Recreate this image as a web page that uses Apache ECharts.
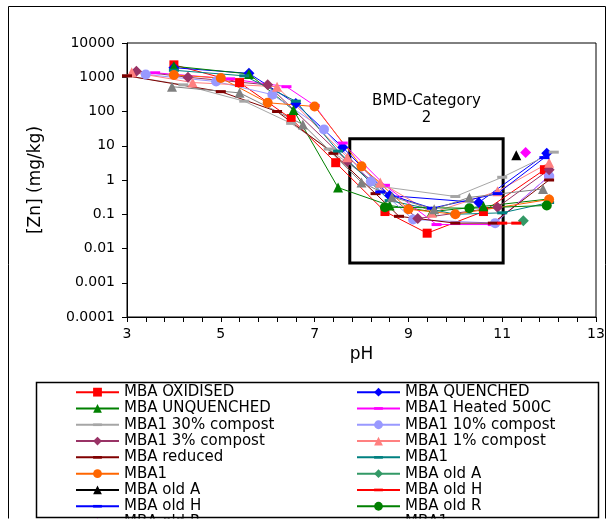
<!DOCTYPE html>
<html>
<head>
<meta charset="utf-8">
<script src="https://cdn.jsdelivr.net/npm/echarts@6/dist/echarts.min.js"></script>
<style>
  html, body { margin: 0; padding: 0; background: #fff; }
  #chart { width: 610px; height: 521px; }
</style>
</head>
<body>
<div id="chart"></div>
<script>
// Zn leaching versus pH for several MBA materials
const seriesNames = [
  'MBA OXIDISED', 'MBA QUENCHED', 'MBA UNQUENCHED', 'MBA1 Heated 500C',
  'MBA1 30% compost', 'MBA1 10% compost', 'MBA1 3% compost', 'MBA1 1% compost',
  'MBA reduced', 'MBA1', 'MBA1', 'MBA old A', 'MBA old A', 'MBA old H',
  'MBA old H', 'MBA old R', 'MBA old R', 'MBA1'
];

const phOxidised = [4.0, 5.4, 6.5, 7.45, 8.5, 9.4, 10.6, 11.9];
const znOxidised = [2300, 700, 62, 3.2, 0.12, 0.028, 0.12, 2.0];

const phQuenched = [4.0, 5.6, 6.6, 7.6, 8.6, 10.5, 11.95];
const znQuenched = [1900, 1300, 170, 9, 0.35, 0.22, 6.0];

const phUnquenched = [4.0, 5.6, 6.55, 7.5, 8.6, 9.5, 10.6, 12.0];
const znUnquenched = [2100, 1250, 110, 0.6, 0.18, 0.12, 0.17, 0.28];

const phHeated = [3.6, 5.2, 6.4, 7.0, 7.6, 8.5, 9.6, 10.8, 12.0];
const znHeated = [1350, 900, 530, 150, 12, 0.7, 0.05, 0.05, 1.3];

const phCompost30 = [3.0, 4.2, 5.5, 6.5, 7.3, 8.4, 10.0, 11.0, 12.1];
const znCompost30 = [1100, 600, 200, 45, 8, 0.65, 0.33, 1.2, 6.5];

const phCompost10 = [3.4, 4.9, 6.1, 7.2, 8.2, 9.1, 10.85, 12.0];
const znCompost10 = [1200, 750, 310, 30, 0.9, 0.07, 0.055, 1.3];

const phCompost3 = [3.2, 4.3, 6.0, 7.7, 9.2, 10.9, 12.0];
const znCompost3 = [1500, 1000, 600, 3.5, 0.075, 0.16, 2.0];

const phCompost1 = [3.1, 4.4, 6.2, 7.7, 8.4, 9.5, 10.9, 12.0];
const znCompost1 = [1400, 700, 530, 4.6, 0.85, 0.11, 0.47, 3.2];

const phReduced = [3.0, 5.0, 6.2, 7.4, 8.3, 8.8, 10.0, 10.8, 12.0];
const znReduced = [1100, 380, 100, 6, 0.4, 0.087, 0.055, 0.055, 1.0];

const phMba1Teal = [4.0, 5.5, 6.6, 7.5, 8.6, 10.0, 11.0, 12.0];
const znMba1Teal = [1600, 1100, 200, 7, 0.25, 0.1, 0.11, 0.22];

const phMba1Orange = [4.0, 5.0, 6.0, 7.0, 8.0, 9.0, 10.0, 12.0];
const znMba1Orange = [1170, 950, 180, 140, 2.5, 0.14, 0.1, 0.27];

const phOldA1 = [11.45];
const znOldA1 = [0.065];

const phOldA2 = [11.3];
const znOldA2 = [5.3];

const phOldH1 = [11.0, 11.3];
const znOldH1 = [0.055, 0.055];

const phOldH2 = [8.4, 9.5, 10.9, 11.9];
const znOldH2 = [0.45, 0.15, 0.4, 4.5];

const phOldR1 = [8.5, 10.3, 11.95];
const znOldR1 = [0.16, 0.15, 0.18];

const phOldR2 = [11.5];
const znOldR2 = [6.3];

const phMba1Gray = [3.96, 5.4, 6.75, 8.0, 8.65, 9.55, 10.3, 11.87];
const znMba1Gray = [530, 350, 42, 0.85, 0.32, 0.14, 0.31, 0.55];

// BMD category 2 window (pH range and Zn range)
const bmdPh = [7.75, 11.02];
const bmdZn = [0.0038, 16];
const bmdLabel = 'BMD-Category\n2';

const yTickLabels = ['0.0001', '0.001', '0.01', '0.1', '1', '10', '100', '1000', '10000'];

const seriesPh = [phOxidised, phQuenched, phUnquenched, phHeated, phCompost30, phCompost10,
  phCompost3, phCompost1, phReduced, phMba1Teal, phMba1Orange, phOldA1, phOldA2, phOldH1,
  phOldH2, phOldR1, phOldR2, phMba1Gray];
const seriesZn = [znOxidised, znQuenched, znUnquenched, znHeated, znCompost30, znCompost10,
  znCompost3, znCompost1, znReduced, znMba1Teal, znMba1Orange, znOldA1, znOldA2, znOldH1,
  znOldH2, znOldR1, znOldR2, znMba1Gray];

// short horizontal bar marker; the two lone moves keep the box square
const dash = 'path://M0,0M10,10M0,3.5H10V6.5H0Z';

// line colour, marker and marker size for every series
const styles = [
  { color: '#FF0000', symbol: 'rect', size: 9 },
  { color: '#0000FF', symbol: 'diamond', size: 11 },
  { color: '#008000', symbol: 'triangle', size: 10 },
  { color: '#FF00FF', symbol: dash, size: 10 },
  { color: '#A6A6A6', symbol: dash, size: 10 },
  { color: '#9999FF', symbol: 'circle', size: 10 },
  { color: '#993366', symbol: 'diamond', size: 11 },
  { color: '#FF8080', symbol: 'triangle', size: 10 },
  { color: '#800000', symbol: dash, size: 10 },
  { color: '#008080', symbol: dash, size: 10 },
  { color: '#FF6600', symbol: 'circle', size: 10 },
  { color: '#339966', symbol: 'diamond', size: 11 },
  { color: '#000000', symbol: 'triangle', size: 10 },
  { color: '#FF0000', symbol: dash, size: 10 },
  { color: '#0000FF', symbol: dash, size: 10 },
  { color: '#008000', symbol: 'circle', size: 10 },
  { color: '#FF00FF', symbol: 'diamond', size: 11 },
  { color: '#808080', symbol: 'triangle', size: 10 }
];

const FONT = 'DejaVu Sans';

// duplicate names get trailing spaces so each legend entry keeps its own style
const seen = {};
const legendNames = seriesNames.map(n => {
  seen[n] = (seen[n] || 0) + 1;
  return n + ' '.repeat(seen[n] - 1);
});

const series = seriesPh.map((ph, i) => {
  const s = styles[i];
  return {
    name: legendNames[i],
    type: 'line',
    data: ph.map((x, k) => [x, seriesZn[i][k]]),
    symbol: s.symbol,
    symbolSize: s.size,
    showAllSymbol: true,
    lineStyle: { color: s.color, width: 1 },
    itemStyle: { color: s.color },
    emphasis: { disabled: true },
    z: 2
  };
});

series.push({
  name: 'bmd',
  type: 'line',
  data: [],
  silent: true,
  markArea: {
    silent: true,
    itemStyle: { color: 'rgba(0,0,0,0)', borderColor: '#000', borderWidth: 3 },
    label: {
      show: true, position: 'top', distance: 11, color: '#000',
      fontFamily: FONT, fontSize: 15, lineHeight: 17, formatter: bmdLabel
    },
    data: [[{ xAxis: bmdPh[0], yAxis: bmdZn[1] }, { xAxis: bmdPh[1], yAxis: bmdZn[0] }]]
  }
});

const legendBase = {
  type: 'plain',
  orient: 'vertical',
  top: 384,
  height: 220,
  padding: 0,
  itemWidth: 43,
  itemHeight: 11,
  itemGap: 0,
  selectedMode: false,
  textStyle: { fontFamily: FONT, fontSize: 15, lineHeight: 16.3, color: '#000' }
};

const chart = echarts.init(document.getElementById('chart'), null, { renderer: 'canvas' });
chart.setOption({
  animation: false,
  backgroundColor: '#fff',
  grid: { left: 127, right: 14, top: 43, bottom: 204, show: true, borderColor: '#000', borderWidth: 1 },
  xAxis: {
    type: 'value', min: 3, max: 13, interval: 2,
    name: 'pH', nameLocation: 'middle', nameGap: 28,
    nameTextStyle: { fontFamily: FONT, fontSize: 17, color: '#000' },
    axisLine: { lineStyle: { color: '#000', width: 1 } },
    axisTick: { length: 5, lineStyle: { color: '#000' } },
    minorTick: { show: true, splitNumber: 5, length: 5, lineStyle: { color: '#000' } },
    axisLabel: { fontFamily: FONT, fontSize: 14, color: '#000', margin: 10 },
    splitLine: { show: false }
  },
  yAxis: {
    type: 'log', logBase: 10, min: 0.0001, max: 10000,
    name: '[Zn] (mg/kg)', nameLocation: 'middle', nameGap: 83, nameRotate: 90,
    nameTextStyle: { fontFamily: FONT, fontSize: 17, color: '#000' },
    axisLine: { show: true, lineStyle: { color: '#000', width: 1 } },
    axisTick: { show: true, length: 5, lineStyle: { color: '#000' } },
    axisLabel: {
      fontFamily: FONT, fontSize: 14, color: '#000', margin: 12,
      formatter: v => yTickLabels[Math.round(Math.log10(v)) + 4]
    },
    splitLine: { show: false }
  },
  legend: [
    Object.assign({}, legendBase, { left: 75, data: legendNames.filter((_, i) => i % 2 === 0) }),
    Object.assign({}, legendBase, { left: 356, data: legendNames.filter((_, i) => i % 2 === 1) })
  ],
  graphic: [
    { type: 'rect', z: 100, shape: { x: 8.5, y: 6.5, width: 597, height: 530 },
      style: { fill: null, stroke: '#000', lineWidth: 1 }, silent: true },
    { type: 'rect', z: 100, shape: { x: 0, y: 518.5, width: 610, height: 10 },
      style: { fill: '#fff' }, silent: true },
    { type: 'rect', z: 101, shape: { x: 36.5, y: 382.5, width: 562, height: 135 },
      style: { fill: null, stroke: '#000', lineWidth: 1.5 }, silent: true }
  ],
  series: series
});
</script>
</body>
</html>
